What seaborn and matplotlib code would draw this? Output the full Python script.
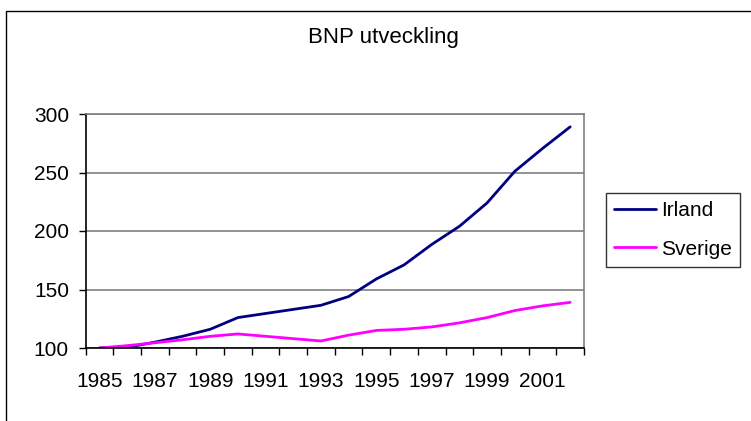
import matplotlib
matplotlib.use("Agg")
import matplotlib.pyplot as plt
import seaborn as sns
import pandas as pd
import numpy as np
from matplotlib.patches import Rectangle
from matplotlib.ticker import FixedLocator

years = list(range(1985, 2003))
irland = [100, 100.5, 105, 110, 116, 126, 129.5, 133, 136.5, 144, 159, 171, 188.5, 204, 224, 251, 270.5, 289]
sverige = [100, 102, 104.5, 107, 110, 112, 110, 108, 106, 111, 115, 116, 118, 121.5, 126, 132, 136, 139]
series_names = ["Irland", "Sverige"]
colors = ["#000080", "#FF00FF"]
title = "BNP utveckling"
xtick_labels = [str(y) for y in range(1985, 2002, 2)]
yticks = [100, 150, 200, 250, 300]

df = pd.DataFrame({
    "year": years * 2,
    "value": irland + sverige,
    "series": [series_names[0]] * len(years) + [series_names[1]] * len(years),
})

sns.set_theme(style="white")
plt.rcParams["font.family"] = ["Liberation Sans", "DejaVu Sans"]
plt.rcParams["text.color"] = "black"
plt.rcParams["xtick.color"] = "black"
plt.rcParams["ytick.color"] = "black"

fig = plt.figure(figsize=(7.51, 4.21), dpi=100)
ax = fig.add_axes([85.6 / 751, 73 / 421, (584 - 85.6) / 751, (348 - 114) / 421])

sns.lineplot(data=df, x="year", y="value", hue="series", palette=colors,
             linewidth=2.0, ax=ax, legend=True)

ax.set_xlim(1984.5, 2002.5)
ax.set_ylim(100, 300)
ax.set_yticks(yticks)
ax.set_yticklabels([str(v) for v in yticks])
ax.set_xticks([int(s) for s in xtick_labels])
ax.set_xticklabels(xtick_labels)
ax.xaxis.set_minor_locator(FixedLocator(np.arange(1984.5, 2003, 1.0)))
ax.tick_params(axis="x", which="major", length=0, pad=17, labelsize=15, labelcolor="black")
ax.tick_params(axis="x", which="minor", length=5, width=1, direction="out", color="black", bottom=True)
ax.tick_params(axis="y", which="major", length=5, width=1, direction="out", pad=7,
               labelsize=15, color="black", labelcolor="black", left=True)
ax.set_xlabel("")
ax.set_ylabel("")

ax.yaxis.grid(True, color="#808080", linewidth=1.2)
ax.xaxis.grid(False)
for side in ["left", "bottom"]:
    ax.spines[side].set_color("black")
    ax.spines[side].set_linewidth(1.2)
for side in ["top", "right"]:
    ax.spines[side].set_color("#808080")
    ax.spines[side].set_linewidth(1.2)
ax.set_axisbelow(True)

fig.text(383 / 751, 1 - 38 / 421, title, ha="center", va="center", fontsize=16, color="black")

handles, labels = ax.get_legend_handles_labels()
ax.get_legend().remove()
leg = fig.legend(handles, labels, loc="upper left",
                 bbox_to_anchor=(605.5 / 751, 1 - 192.5 / 421),
                 bbox_transform=fig.transFigure, borderaxespad=0,
                 frameon=True, fancybox=False, fontsize=15,
                 handlelength=2.0, handletextpad=0.25, labelspacing=0.95,
                 borderpad=0.4)
leg.get_frame().set_edgecolor("black")
leg.get_frame().set_linewidth(1.0)
for t in leg.get_texts():
    t.set_color("black")
for h in leg.get_lines():
    h.set_linewidth(2.0)

fig.patches.append(Rectangle((6.5 / 751, -0.1), 1.2, 1.1 - 10.5 / 421,
                             transform=fig.transFigure, fill=False,
                             edgecolor="black", linewidth=1.0))

fig.savefig("out.png", dpi=100)
